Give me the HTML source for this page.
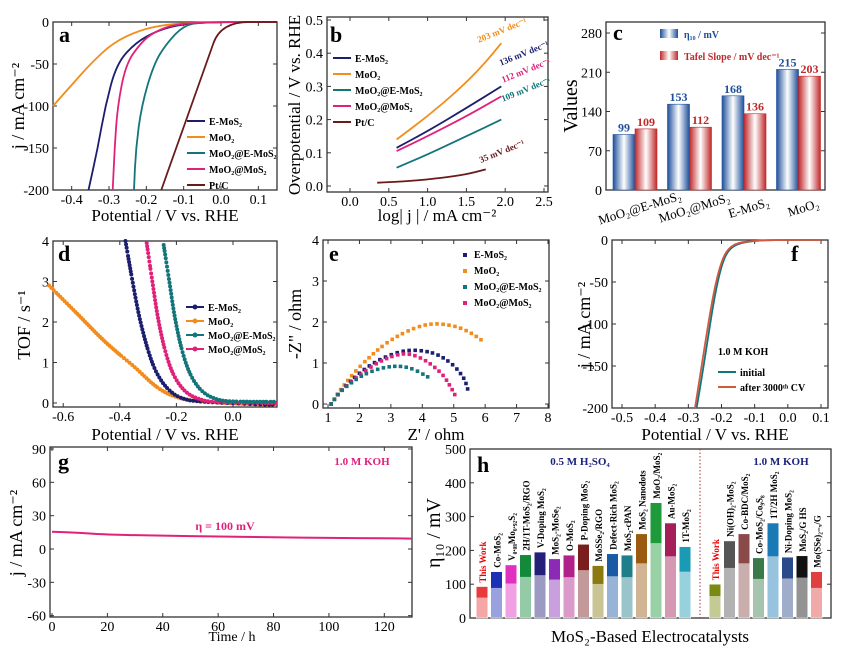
<!DOCTYPE html>
<html><head><meta charset="utf-8"><style>
body{margin:0;background:#fff}
svg{display:block;font-family:"Liberation Serif",serif}
</style></head><body>
<svg id="fig" width="850" height="659" viewBox="0 0 850 659" xmlns="http://www.w3.org/2000/svg"></svg>
<script>
// ---- data ----
const aNames=["E-MoS₂","MoO₂","MoO₂@E-MoS₂","MoO₂@MoS₂","Pt/C"];
const aColors=["#1b1f6e","#f28c1c","#13757a","#e0217a","#6b1a1a"];
const aNavy=[[0.15,0],[0,0],[-0.1,-2],[-0.17,-10],[-0.23,-25],[-0.28,-50],[-0.31,-100],[-0.33,-150],[-0.355,-200]];
const aOrange=[[0.15,0],[-0.05,0],[-0.15,-3],[-0.22,-10],[-0.29,-25],[-0.35,-50],[-0.4,-75],[-0.45,-100]];
const aTeal=[[0.15,0],[-0.05,0],[-0.1,-4],[-0.145,-25],[-0.18,-50],[-0.213,-100],[-0.228,-150],[-0.233,-200]];
const aPink=[[0.15,0],[0,0],[-0.12,-2],[-0.18,-12],[-0.215,-25],[-0.255,-50],[-0.277,-100],[-0.285,-150],[-0.29,-200]];
const aBrown=[[0.15,0],[0,0],[-0.04,-50],[-0.08,-100],[-0.12,-150],[-0.16,-200]];
const bOrange=[[0.6,0.14],[1.0,0.21],[1.4,0.29],[1.7,0.36],[1.95,0.43]];
const bNavy=[[0.6,0.115],[1.0,0.165],[1.5,0.235],[1.95,0.30]];
const bPink=[[0.6,0.105],[1.0,0.15],[1.5,0.21],[1.95,0.27]];
const bTeal=[[0.6,0.055],[1.0,0.095],[1.5,0.15],[1.95,0.20]];
const bBrown=[[0.35,0.01],[0.8,0.015],[1.2,0.025],[1.5,0.035],[1.75,0.05]];
const cCats=["MoO₂@E-MoS₂","MoO₂@MoS₂","E-MoS₂","MoO₂"];
const cEta=[99,153,168,215];
const cTafel=[109,112,136,203];
const dNavy=[[-0.38,4],[-0.355,3],[-0.33,2.1],[-0.3,1.3],[-0.27,0.75],[-0.23,0.35],[-0.18,0.12],[-0.1,0.03],[0.15,-0.05]];
const dPink=[[-0.305,3.95],[-0.285,3],[-0.265,2.1],[-0.24,1.3],[-0.21,0.7],[-0.17,0.3],[-0.12,0.1],[-0.05,0.02],[0.15,0]];
const dTeal=[[-0.245,3.9],[-0.225,3],[-0.205,2.1],[-0.18,1.3],[-0.15,0.7],[-0.11,0.3],[-0.06,0.1],[0,0.04],[0.15,0.03]];
const dOrange=[[-0.65,2.9],[-0.55,2.2],[-0.45,1.5],[-0.35,0.9],[-0.27,0.4],[-0.2,0.15],[-0.1,0.03],[0.15,-0.05]];
const eNavy=[[1.1,0],[1.4,0.3],[2,0.75],[2.7,1.1],[3.5,1.3],[4.3,1.25],[4.9,1.0],[5.3,0.65],[5.45,0.35]];
const eOrange=[[1.1,0],[1.4,0.35],[2,0.9],[2.8,1.45],[3.6,1.8],[4.3,1.95],[5,1.9],[5.5,1.75],[5.9,1.55]];
const eTeal=[[1.1,0],[1.4,0.3],[2,0.65],[2.6,0.85],[3.2,0.92],[3.7,0.85],[4.2,0.65]];
const ePink=[[1.1,0],[1.4,0.3],[2,0.7],[2.7,1.05],[3.4,1.22],[4,1.1],[4.6,0.75],[4.95,0.35],[5.05,0.2]];
const fInit=[[0.1,0],[-0.05,0],[-0.1,-1],[-0.15,-4],[-0.18,-12],[-0.2,-30],[-0.22,-65],[-0.24,-115],[-0.26,-165],[-0.275,-200]];
const fAfter=[[0.1,0],[-0.05,0],[-0.1,-1],[-0.15,-3],[-0.18,-10],[-0.2,-25],[-0.22,-55],[-0.24,-100],[-0.26,-150],[-0.28,-200]];
const gT=[0,10,20,40,60,80,100,120,130];
const gJ=[15.5,14.5,13,12,11.2,10.5,10,9.6,9.4];
const hAcidNames=["This Work","Co-MoS₂","V₀.₀₈Mo₀.₉₂S₂","2H/1T-MoS₂/RGO","V-Doping MoS₂","MoS₂-MoSe₂","O-MoS₂","P-Doping MoS₂","MoSSe₂/RGO","Defect-Rich MoS₂","MoS₂-cPAN","MoS₂ Nanodots","MoO₂/MoS₂","Au-MoS₂","1T-MoS₂"];
const hAcidVals=[93,137,157,187,195,175,186,218,155,190,186,249,341,281,211];
const hAcidColors=["#e83a3a","#1d2fb5","#e030c0","#138a3a","#24207a","#8a2ab5","#b0228a","#7a1e1e","#8a7a10","#1a5aa5","#1e7f8a","#9a5a10","#1e9a3a","#a51e5a","#1a9ab5"];
const hKohNames=["This Work","Ni(OH)₂-MoS₂","Co-BDC/MoS₂","Co-MoS₂/Co₉S₈","1T/2H MoS₂","Ni-Doping MoS₂","MoS₂/G HS","Mo(SSe)₂₋ₓ/G"];
const hKohVals=[100,228,249,178,281,180,184,137];
const hKohColors=["#7a8a10","#555","#8a4a4a","#3a7a4a","#1a7ab5","#2a4a8a","#111","#e04040"];

const svg=document.getElementById('fig');
const NS="http://www.w3.org/2000/svg";
function el(tag,attrs,parent){const e=document.createElementNS(NS,tag);for(const k in attrs)e.setAttribute(k,attrs[k]);(parent||svg).appendChild(e);return e;}
function txt(s,x,y,o,parent){const t=el('text',Object.assign({x:x,y:y,'font-size':14,'text-anchor':'middle',fill:'#000'},o||{}),parent);t.textContent=s;return t;}
function lin(d0,d1,p0,p1){return v=>p0+(v-d0)/(d1-d0)*(p1-p0);}
function panel(name,L,T,R,B){const g=el('g',{});
 const r=el('rect',{x:L,y:T,width:R-L,height:B-T,fill:'none',stroke:'#333','stroke-width':1.3},g);return g;}
function xticks(g,xs,vals,labs,B,T){vals.forEach((v,i)=>{const x=xs(v);el('line',{x1:x,y1:B,x2:x,y2:B-4,stroke:'#333'},g);el('line',{x1:x,y1:T,x2:x,y2:T+4,stroke:'#333'},g);const t=txt(labs[i],x,B+14,{'font-size':14},g);});}
function yticks(g,ys,vals,labs,L,R){vals.forEach((v,i)=>{const y=ys(v);el('line',{x1:L,y1:y,x2:L+4,y2:y,stroke:'#333'},g);el('line',{x1:R,y1:y,x2:R-4,y2:y,stroke:'#333'},g);const t=txt(labs[i],L-4,y+5,{'text-anchor':'end','font-size':14},g);});}
function smooth(pts,xs,ys,n){const P=pts.map(p=>[xs(p[0]),ys(p[1])]);const out=[];for(let i=0;i<P.length-1;i++){const p0=P[Math.max(0,i-1)],p1=P[i],p2=P[i+1],p3=P[Math.min(P.length-1,i+2)];for(let k=0;k<n;k++){const t=k/n,t2=t*t,t3=t2*t;const f=(a,b,c,d)=>0.5*(2*b+(-a+c)*t+(2*a-5*b+4*c-d)*t2+(-a+3*b-3*c+d)*t3);out.push([f(p0[0],p1[0],p2[0],p3[0]),f(p0[1],p1[1],p2[1],p3[1])]);}}out.push(P[P.length-1]);return out;}
// quadratic midpoint smoothing (no overshoot)
function curve(g,pts,xs,ys,col,name,w){const P=pts.map(p=>[xs(p[0]),ys(p[1])]);const f=v=>v.toFixed(1);let d='M'+f(P[0][0])+','+f(P[0][1]);
 if(P.length>2){const m=(a,b)=>[(a[0]+b[0])/2,(a[1]+b[1])/2];let q=m(P[0],P[1]);d+='L'+f(q[0])+','+f(q[1]);for(let i=1;i<P.length-1;i++){const mm=m(P[i],P[i+1]);d+='Q'+f(P[i][0])+','+f(P[i][1])+' '+f(mm[0])+','+f(mm[1]);}}
 d+='L'+f(P[P.length-1][0])+','+f(P[P.length-1][1]);
 const p=el('path',{d:d,fill:'none',stroke:col,'stroke-width':w||1.8},g);return p;}
function markers(g,pts,xs,ys,col,name,step,shape){const s=smooth(pts,xs,ys,30);let last=null;s.forEach(q=>{if(last&&Math.hypot(q[0]-last[0],q[1]-last[1])<step)return;last=q;const x=q[0],y=q[1];let m;if(shape==='sq')m=el('rect',{x:x-1.8,y:y-1.8,width:3.6,height:3.6,fill:col},g);else m=el('circle',{cx:x,cy:y,r:2,fill:col},g);});}
function letter(g,s,x,y){const t=txt(s,x,y,{'font-size':22,'font-weight':'bold','text-anchor':'start'},g);}
function legend(g,x,y,names,cols,dy,mk){names.forEach((n,i)=>{const yy=y+i*dy;el('line',{x1:x,y1:yy,x2:x+18,y2:yy,stroke:cols[i],'stroke-width':2},g);if(mk)el('circle',{cx:x+9,cy:yy,r:2.5,fill:cols[i]},g);const t=txt(n,x+22,yy+4,{'font-size':10,'font-weight':'bold','text-anchor':'start'},g);});}
function ylabel(g,s,x,y,fs){const t=txt(s,x,y,{'font-size':fs||18,transform:`rotate(-90 ${x} ${y})`},g);return t;}
function xlabel(g,s,x,y){const t=txt(s,x,y,{'font-size':17},g);return t;}

// ---- panel a ----
{const L=53,T=22,R=277,B=190;const g=panel('panel-a',L,T,R,B);const xs=lin(-0.45,0.15,L,R),ys=lin(0,-200,T,B);
xticks(g,xs,[-0.4,-0.3,-0.2,-0.1,0,0.1],["-0.4","-0.3","-0.2","-0.1","0.0","0.1"],B,T);
yticks(g,ys,[0,-50,-100,-150,-200],["0","-50","-100","-150","-200"],L,R);
[aNavy,aOrange,aTeal,aPink,aBrown].forEach((d,i)=>curve(g,d,xs,ys,aColors[i],'lsv-curve-'+i));
legend(g,187,121,aNames,aColors,16);letter(g,'a',59,42);
xlabel(g,'Potential / V vs. RHE',165,221);ylabel(g,'j / mA cm⁻²',24,106);}
// ---- panel b ----
{const L=327,T=17,R=548,B=192;const g=panel('panel-b',L,T,R,B);const xs=lin(0,2.5,350,544),ys=lin(0,0.5,186,20);
xticks(g,xs,[0,0.5,1,1.5,2,2.5],["0.0","0.5","1.0","1.5","2.0","2.5"],B,T);
yticks(g,ys,[0,0.1,0.2,0.3,0.4,0.5],["0.0","0.1","0.2","0.3","0.4","0.5"],L,R);
const bc=[aColors[1],aColors[0],aColors[3],aColors[2],aColors[4]];
[bOrange,bNavy,bPink,bTeal,bBrown].forEach((d,i)=>curve(g,d,xs,ys,bc[i],'tafel-line-'+i));
legend(g,333,58,["E-MoS₂","MoO₂","MoO₂@E-MoS₂","MoO₂@MoS₂","Pt/C"],aColors,16);letter(g,'b',330,42);
[["203 mV dec⁻¹",503,33,aColors[1]],["136 mV dec⁻¹",525,56,aColors[0]],["112 mV dec⁻¹",527,73,aColors[3]],["109 mV dec⁻¹",527,92,aColors[2]],["35 mV dec⁻¹",503,154,aColors[4]]].forEach(a=>{const t=txt(a[0],a[1],a[2],{'font-size':9,'font-weight':'bold',fill:a[3],transform:`rotate(-22 ${a[1]} ${a[2]})`},g);});
xlabel(g,'log| j | / mA cm⁻²',437,221);ylabel(g,'Overpotential / V vs. RHE',300,105,17);}
// ---- panel c ----
{const L=606,T=22,R=825,B=190;const g=panel('panel-c',L,T,R,B);const ys=lin(0,280,B,33);
yticks(g,ys,[0,70,140,210,280],["0","70","140","210","280"],L,R);
const defs=el('defs',{});
defs.innerHTML='<linearGradient id="gb" x1="0" x2="1"><stop offset="0" stop-color="#1d4f9a"/><stop offset="0.5" stop-color="#fff"/><stop offset="1" stop-color="#1d4f9a"/></linearGradient><linearGradient id="gr" x1="0" x2="1"><stop offset="0" stop-color="#c0282a"/><stop offset="0.5" stop-color="#fff"/><stop offset="1" stop-color="#c0282a"/></linearGradient>';
const gw=54.5,x0=L+7,bw=22;
cCats.forEach((c,i)=>{const gx=x0+i*gw;
 [[cEta[i],'url(#gb)','#1d4f9a','eta-bar'],[cTafel[i],'url(#gr)','#c0282a','tafel-bar']].forEach((b,j)=>{const x=gx+j*bw,y=ys(b[0]);const r=el('rect',{x:x,y:y,width:bw,height:B-y,fill:b[1],stroke:b[2],'stroke-width':0.6},g);
 const t=txt(String(b[0]),x+bw/2,y-3,{'font-size':12,'font-weight':'bold',fill:b[2]},g);});
 const cx=gx+bw+6,cy=B+22,t=txt(c,cx,cy,{'font-size':13,'text-anchor':'middle',transform:`rotate(-17 ${cx} ${cy})`},g);});
[['url(#gb)','#1d4f9a','η₁₀ / mV',35],['url(#gr)','#c0282a','Tafel Slope / mV dec⁻¹',57]].forEach(l=>{el('rect',{x:660,y:l[3]-6,width:18,height:9,fill:l[0]},g);const t=txt(l[2],684,l[3]+3,{'font-size':10,'font-weight':'bold',fill:l[1],'text-anchor':'start'},g);});
letter(g,'c',613,40);ylabel(g,'Values',577,106,20);}
// ---- panel d ----
{const L=53,T=241,R=277,B=407;const g=panel('panel-d',L,T,R,B);const xs=v=>233+283*v,ys=lin(0,4,403,241);
xticks(g,xs,[-0.6,-0.4,-0.2,0],["-0.6","-0.4","-0.2","0.0"],B,T);
yticks(g,ys,[0,1,2,3,4],["0","1","2","3","4"],L,R);
markers(g,dOrange,xs,ys,aColors[1],'tof-point-moo2',2.5);markers(g,dNavy,xs,ys,aColors[0],'tof-point-emos2',3);markers(g,dPink,xs,ys,aColors[3],'tof-point-moo2-mos2',3);markers(g,dTeal,xs,ys,aColors[2],'tof-point-moo2-emos2',3);
legend(g,186,307,["E-MoS₂","MoO₂","MoO₂@E-MoS₂","MoO₂@MoS₂"],[aColors[0],aColors[1],aColors[2],aColors[3]],14,true);letter(g,'d',58,261);
xlabel(g,'Potential / V vs. RHE',165,440);ylabel(g,'TOF / s⁻¹',30,325);}
// ---- panel e ----
{const L=323,T=240,R=549,B=408;const g=panel('panel-e',L,T,R,B);const xs=lin(0,8,296.6,548),ys=lin(0,4,404,240);
xticks(g,xs,[1,2,3,4,5,6,7,8],["1","2","3","4","5","6","7","8"],B,T);
yticks(g,ys,[0,1,2,3,4],["0","1","2","3","4"],L,R);
markers(g,eOrange,xs,ys,aColors[1],'nyquist-point-moo2',5.5,'sq');markers(g,eNavy,xs,ys,aColors[0],'nyquist-point-emos2',5.5,'sq');markers(g,ePink,xs,ys,aColors[3],'nyquist-point-moo2-mos2',5.5,'sq');markers(g,eTeal,xs,ys,aColors[2],'nyquist-point-moo2-emos2',5.5,'sq');
[["E-MoS₂",aColors[0]],["MoO₂",aColors[1]],["MoO₂@E-MoS₂",aColors[2]],["MoO₂@MoS₂",aColors[3]]].forEach((l,i)=>{el('rect',{x:463,y:253+i*16,width:4,height:4,fill:l[1]},g);const t=txt(l[0],474,258+i*16,{'font-size':10,'font-weight':'bold','text-anchor':'start'},g);});
letter(g,'e',329,261);xlabel(g,"Z' / ohm",436,440);ylabel(g,'-Z" / ohm',301,324);}
// ---- panel f ----
{const L=612,T=240,R=828,B=408;const g=panel('panel-f',L,T,R,B);const xs=lin(-0.5,0.1,622,821),ys=lin(0,-200,T,B);
xticks(g,xs,[-0.5,-0.4,-0.3,-0.2,-0.1,0,0.1],["-0.5","-0.4","-0.3","-0.2","-0.1","0.0","0.1"],B,T);
yticks(g,ys,[0,-50,-100,-150,-200],["0","-50","-100","-150","-200"],L,R);
curve(g,fInit,xs,ys,'#13757a','stability-initial');curve(g,fAfter,xs,ys,'#d05a40','stability-after-cv');
const t1=txt('1.0 M KOH',718,355,{'font-size':10,'font-weight':'bold','text-anchor':'start'},g);
legend(g,718,372,['initial','after 3000ᵗʰ CV'],['#13757a','#d05a40'],15);
letter(g,'f',791,261);xlabel(g,'Potential / V vs. RHE',715,440);ylabel(g,'j / mA cm⁻²',590,325);}
// ---- panel g ----
{const L=50,T=447,R=412,B=617;const g=panel('panel-g',L,T,R,B);const xs=lin(0,130,52,412),ys=lin(0,90,549,449);
xticks(g,xs,[0,20,40,60,80,100,120],["0","20","40","60","80","100","120"],B,T);
yticks(g,ys,[-60,-30,0,30,60,90],["-60","-30","0","30","60","90"],L,R);
curve(g,gT.map((t,i)=>[t,gJ[i]]),xs,ys,'#e0217a','chrono-curve',2);
letter(g,'g',58,469);
const t1=txt('1.0 M KOH',362,465,{'font-size':11,'font-weight':'bold',fill:'#e0217a'},g);
const t2=txt('η = 100 mV',225,530,{'font-size':12,'font-weight':'bold',fill:'#e0217a'},g);
xlabel(g,'Time / h',232,641).setAttribute('font-size',14);ylabel(g,'j / mA cm⁻²',22,533);}
// ---- panel h ----
{const L=470,T=449,R=831,B=618;const g=panel('panel-h',L,T,R,B);const ys=lin(0,500,B,T);
yticks(g,ys,[0,100,200,300,400,500],["0","100","200","300","400","500"],L,R);
const bw=11.5,sp=14.5;
function bars(names,vals,cols,x0,pref){vals.forEach((v,i)=>{const cx=x0+i*sp,y=ys(v);const r=el('rect',{x:cx-bw/2,y:y,width:bw,height:B-y,fill:cols[i],stroke:'#fff','stroke-width':0.5},g);
 const gr=el('rect',{x:cx-bw/2,y:y+(B-y)*0.35,width:bw,height:(B-y)*0.65,fill:'#fff',opacity:0.55},g);
 const ty=y-4,t=txt(names[i],cx+4,ty,{'font-size':9,'font-weight':'bold','text-anchor':'start',fill:i===0?'#e00':'#000',transform:`rotate(-90 ${cx+4} ${ty})`},g);});}
bars(hAcidNames,hAcidVals,hAcidColors,482,'acid');bars(hKohNames,hKohVals,hKohColors,715,'koh');
el('line',{x1:700,y1:T,x2:700,y2:B,stroke:'#b03030','stroke-dasharray':'1.5,2'},g);
const t1=txt('0.5 M H₂SO₄',580,465,{'font-size':11,'font-weight':'bold',fill:'#1a237e'},g);
const t2=txt('1.0 M KOH',781,465,{'font-size':11,'font-weight':'bold',fill:'#1a237e'},g);
letter(g,'h',477,472);xlabel(g,'MoS₂-Based Electrocatalysts',650,642);ylabel(g,'η₁₀ / mV',440,533,20);}
</script>
</body></html>
